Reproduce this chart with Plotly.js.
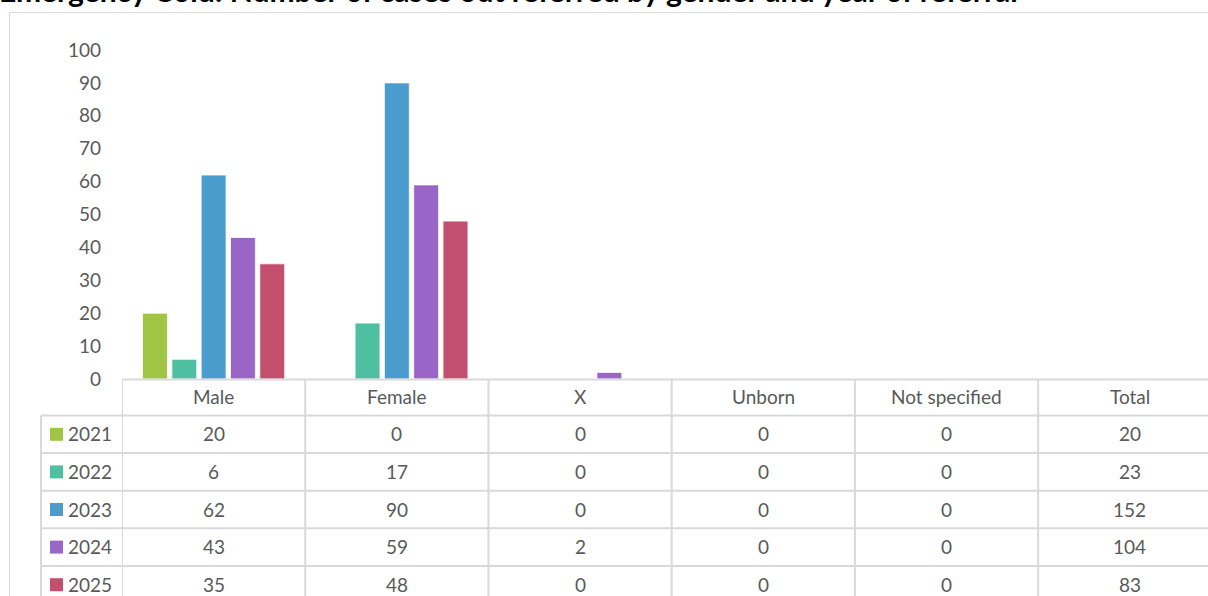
<!DOCTYPE html>
<html>
<head>
<meta charset="utf-8">
<script src="https://cdn.plot.ly/plotly-3.0.1.min.js"></script>
<style>
html,body{margin:0;padding:0;overflow:hidden;background:#fff;}
#chart{width:1208px;height:596px;}
</style>
</head>
<body>
<div id="chart"></div>
<script>
const titleText = "Emergency Cold: Number of cases out referred by gender and year of referral";
const categories = ["Male", "Female", "X", "Unborn", "Not specified", "Total"];
const years = ["2021", "2022", "2023", "2024", "2025"];
const v2021 = [20, 0, 0, 0, 0, 20];
const v2022 = [6, 17, 0, 0, 0, 23];
const v2023 = [62, 90, 0, 0, 0, 152];
const v2024 = [43, 59, 2, 0, 0, 104];
const v2025 = [35, 48, 0, 0, 0, 83];
const colors = ["#A0C545", "#4FBFA2", "#4A9CCC", "#9966C7", "#C34E6E"];
const yTicks = [0, 10, 20, 30, 40, 50, 60, 70, 80, 90, 100];

const series = [v2021, v2022, v2023, v2024, v2025];
const plotCats = categories.slice(0, 5); // Total column is shown in the table only

// geometry (pixels)
const W = 1208, H = 596;
const mL = 122, mR = 0, mT = 50, mB = 217;
const plotW = W - mL - mR, plotH = H - mT - mB;
const xMax = 5.427;
const px2paperX = p => (p - mL) / plotW;
const px2paperY = p => (H - mB - p) / plotH;

const traces = series.map((vals, i) => ({
  type: "bar",
  name: years[i],
  x: plotCats,
  y: vals.slice(0, 5),
  marker: {color: colors[i], line: {color: "rgba(255,255,255,0.8)", width: 1}},
  hoverinfo: "x+y+name"
}));

const gridColor = "#D9D9D9";
const textColor = "#595959";
const fontFam = "Lato, 'Open Sans', sans-serif";
const shapes = [];
const annotations = [];

// outer chart border
shapes.push({type: "rect", xref: "paper", yref: "paper",
  x0: px2paperX(9.5), x1: px2paperX(1260), y0: px2paperY(700), y1: px2paperY(12.5),
  line: {color: gridColor, width: 1}, fillcolor: "rgba(0,0,0,0)", layer: "below"});

// table geometry
const headerTop = 379.5, headerBot = 415.5;
const rowH = 37.6;
const tableBottom = 700;
const rowTop = r => headerBot + r * rowH;

// top line of header row (from plot left to right)
shapes.push({type: "line", xref: "paper", yref: "paper",
  x0: 0, x1: 1.05, y0: px2paperY(headerTop), y1: px2paperY(headerTop),
  line: {color: gridColor, width: 2}});
// horizontal row lines (including row header column)
for (let r = 0; r <= years.length; r++) {
  const yy = px2paperY(rowTop(r));
  shapes.push({type: "line", xref: "paper", yref: "paper",
    x0: px2paperX(41), x1: 1.05, y0: yy, y1: yy,
    line: {color: gridColor, width: 2}});
}
// vertical lines at category boundaries
for (let k = 0; k <= categories.length; k++) {
  shapes.push({type: "line", xref: "x", yref: "paper",
    x0: k - 0.5, x1: k - 0.5, y0: px2paperY(headerTop), y1: px2paperY(tableBottom),
    line: {color: gridColor, width: 2}});
}
// left border of row-header column
shapes.push({type: "line", xref: "paper", yref: "paper",
  x0: px2paperX(41), x1: px2paperX(41), y0: px2paperY(headerBot), y1: px2paperY(tableBottom),
  line: {color: gridColor, width: 2}});

// header texts
categories.forEach((c, k) => {
  annotations.push({xref: "x", yref: "paper", x: k, y: px2paperY((headerTop + headerBot) / 2 - 1),
    text: c, showarrow: false, xanchor: "center", yanchor: "middle",
    font: {family: fontFam, size: 19, color: textColor}});
});
// rows
years.forEach((yr, r) => {
  const cy = px2paperY(rowTop(r) + rowH / 2 - 0.5);
  const top = rowTop(r) + rowH / 2 - 6.5, bot = rowTop(r) + rowH / 2 + 6.5;
  shapes.push({type: "rect", xref: "paper", yref: "paper",
    x0: px2paperX(50), x1: px2paperX(63), y0: px2paperY(bot), y1: px2paperY(top),
    fillcolor: colors[r], line: {width: 0}});
  annotations.push({xref: "paper", yref: "paper", x: px2paperX(66), y: cy,
    text: yr, showarrow: false, xanchor: "left", yanchor: "middle",
    font: {family: fontFam, size: 19, color: textColor}});
  series[r].forEach((v, k) => {
    annotations.push({xref: "x", yref: "paper", x: k, y: cy,
      text: String(v), showarrow: false, xanchor: "center", yanchor: "middle",
      font: {family: fontFam, size: 19, color: textColor}});
  });
});

// title (top of it is cut off by the page edge, as in the reference)
annotations.push({xref: "paper", yref: "paper", x: px2paperX(-3), y: px2paperY(10.5),
  text: "<b>" + titleText + "</b>", showarrow: false, xanchor: "left", yanchor: "bottom",
  font: {family: fontFam, size: 30, color: "#000000"}});

const layout = {
  width: W, height: H,
  margin: {l: mL, r: mR, t: mT, b: mB, pad: 0},
  paper_bgcolor: "#ffffff", plot_bgcolor: "#ffffff",
  showlegend: false,
  barmode: "group",
  bargap: 0.2,
  bargroupgap: 0.15,
  xaxis: {type: "category", categoryarray: categories, categoryorder: "array",
    range: [-0.5, xMax], showticklabels: false, showgrid: false, zeroline: false,
    showline: false, ticks: "", fixedrange: true},
  yaxis: {range: [0, 100], tickvals: yTicks, ticktext: yTicks.map(String),
    showgrid: false, zeroline: false, showline: false, ticks: "",
    ticklabelstandoff: 20, tickfont: {family: fontFam, size: 19, color: textColor},
    fixedrange: true},
  shapes: shapes,
  annotations: annotations
};

Plotly.newPlot("chart", traces, layout, {displayModeBar: false, staticPlot: true});
</script>
</body>
</html>
